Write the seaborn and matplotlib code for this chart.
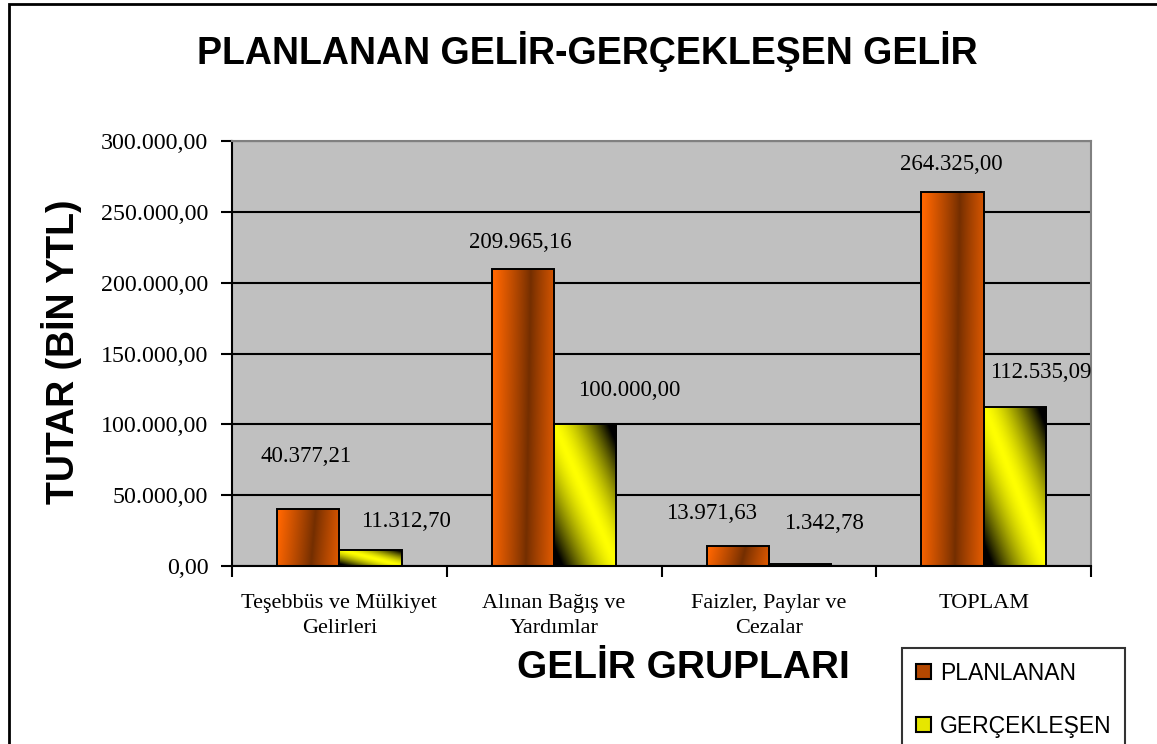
import numpy as np
import pandas as pd
import matplotlib
matplotlib.use("Agg")
import matplotlib.pyplot as plt
import matplotlib.ticker as mticker
from matplotlib.patches import Patch
import seaborn as sns

# ── Data ───────────────────────────────────────────────────────────────────────
CATEGORIES = ["Teşebbüs ve Mülkiyet\nGelirleri", "Alınan Bağış ve\nYardımlar",
              "Faizler, Paylar ve\nCezalar", "TOPLAM"]
SERIES = ["PLANLANAN", "GERÇEKLEŞEN"]
PLANLANAN = [40377.21, 209965.16, 13971.63, 264325.00]
GERCEKLESEN = [11312.70, 100000.00, 1342.78, 112535.09]
Y_TICKS = [0, 50000, 100000, 150000, 200000, 250000, 300000]

# label offsets (px) from bar top-centre, as placed in the original sheet
LABEL_OFFSETS = {
    "PLANLANAN":   [(-2, 52), (-3, 26), (-26, 33), (-1, 27)],
    "GERÇEKLEŞEN": [(35, 28), (44, 34), (24, 41), (26, 34)],
}

df = pd.DataFrame({
    "grup": CATEGORIES * 2,
    "seri": [SERIES[0]] * 4 + [SERIES[1]] * 4,
    "tutar": PLANLANAN + GERCEKLESEN,
})

SERIF = "Liberation Serif"
SANS = "Liberation Sans"
PX = 0.72  # px -> pt at dpi 100


def tr_fmt(v, _=None):
    return f"{v:,.2f}".replace(",", "X").replace(".", ",").replace("X", ".")


def gradient(kind, n=64):
    u, w = np.meshgrid(np.linspace(0, 1, n), np.linspace(0, 1, n))
    if kind == "PLANLANAN":
        c = 0.58 + 0.08 * (w - 0.5)
        d = np.clip(np.abs(u - c) / 0.58, 0, 1) ** 0.9
        bright = np.array([1.0, 0.40, 0.0])
        dark = np.array([0.45, 0.18, 0.0])
        return dark + (bright - dark) * d[..., None]
    d = np.clip(np.abs(u + w - 1) * 1.15, 0, 1) ** 1.5
    yellow = np.array([1.0, 1.0, 0.0])
    return yellow * (1 - d[..., None])


fig = plt.figure(figsize=(11.57, 7.44), dpi=100, facecolor="white")
ax = fig.add_axes([232 / 1157, 1 - 566 / 744, (1091 - 232) / 1157, (566 - 141) / 744])

sns.barplot(data=df, x="grup", y="tutar", hue="seri", order=CATEGORIES,
            hue_order=SERIES, palette={"PLANLANAN": "#FF6600", "GERÇEKLEŞEN": "#FFFF00"},
            width=0.58, gap=0, edgecolor="black", linewidth=1.4, ax=ax, legend=False)

ax.set_facecolor("#C0C0C0")

# gradient fills clipped to the bars
for cont, kind in zip(ax.containers, SERIES):
    for i, bar in enumerate(cont):
        x0, y0 = bar.get_x(), bar.get_y()
        bw, bh = bar.get_width(), bar.get_height()
        bar.set_facecolor("none")
        bar.set_zorder(3)
        im = ax.imshow(gradient(kind), extent=(x0, x0 + bw, y0, y0 + bh), origin="lower",
                       aspect="auto", interpolation="bilinear", zorder=2.5)
        im.set_clip_path(bar)
        dx, dy = LABEL_OFFSETS[kind][i]
        ax.annotate(tr_fmt(bh), (x0 + bw / 2, y0 + bh), xytext=(dx * PX, dy * PX),
                    textcoords="offset points", ha="center", va="center",
                    fontsize=16.5, family=SERIF, annotation_clip=False, zorder=5)

ax.set_xlim(-0.5, 3.5)
ax.set_ylim(0, 300000)

# axes / grid
ax.set_yticks(Y_TICKS)
ax.yaxis.set_major_formatter(mticker.FuncFormatter(tr_fmt))
ax.yaxis.grid(True, color="black", linewidth=1.5)
ax.xaxis.grid(False)
ax.set_axisbelow(True)
ax.tick_params(axis="y", direction="out", length=8, width=1.5, pad=9, labelsize=17.3)
for lab in ax.get_yticklabels():
    lab.set_family(SERIF)

ax.set_xticks([-0.5, 0.5, 1.5, 2.5, 3.5])
ax.set_xticklabels([])
ax.set_xticks(range(len(CATEGORIES)), minor=True)
ax.set_xticklabels(CATEGORIES, minor=True, family=SERIF, fontsize=16, linespacing=1.45)
ax.tick_params(axis="x", which="major", direction="out", length=8, width=1.5)
ax.tick_params(axis="x", which="minor", length=0, pad=20)
ax.set_xlabel("")
ax.set_ylabel("")

for side in ["left", "bottom"]:
    ax.spines[side].set_color("black")
    ax.spines[side].set_linewidth(1.5)
for side in ["top", "right"]:
    ax.spines[side].set_color("#808080")
    ax.spines[side].set_linewidth(1.5)

# titles
fig.text(587 / 1157, 1 - 52 / 744, "PLANLANAN GELİR-GERÇEKLEŞEN GELİR", ha="center",
         va="center", fontsize=27, fontweight="bold", family=SANS)
fig.text(62 / 1157, 1 - 352 / 744, "TUTAR (BİN YTL)", ha="center", va="center",
         rotation=90, fontsize=27, fontweight="bold", family=SANS)
fig.text(683 / 1157, 1 - 668 / 744, "GELİR GRUPLARI", ha="center", va="center",
         fontsize=28, fontweight="bold", family=SANS)

# legend
handles = [Patch(facecolor="#B34700", edgecolor="black", linewidth=1.5),
           Patch(facecolor="#E6E600", edgecolor="black", linewidth=1.5)]
leg = fig.legend(handles, SERIES, loc="upper left",
                 bbox_to_anchor=(902 / 1157, 1 - 648 / 744), bbox_transform=fig.transFigure,
                 borderaxespad=0, frameon=True, fancybox=False, edgecolor="black",
                 prop={"family": SANS, "size": 16.5}, handlelength=0.65, handleheight=0.65,
                 handletextpad=0.4, labelspacing=1.3, borderpad=0.6)
leg.get_frame().set_linewidth(1.5)

# outer chart border
fig.patches.append(plt.Rectangle((9 / 1157, -0.1), 1.2, 1 - 4 / 744 + 0.1,
                                 transform=fig.transFigure, fill=False,
                                 edgecolor="black", linewidth=2))

fig.savefig("out.png", dpi=100)
